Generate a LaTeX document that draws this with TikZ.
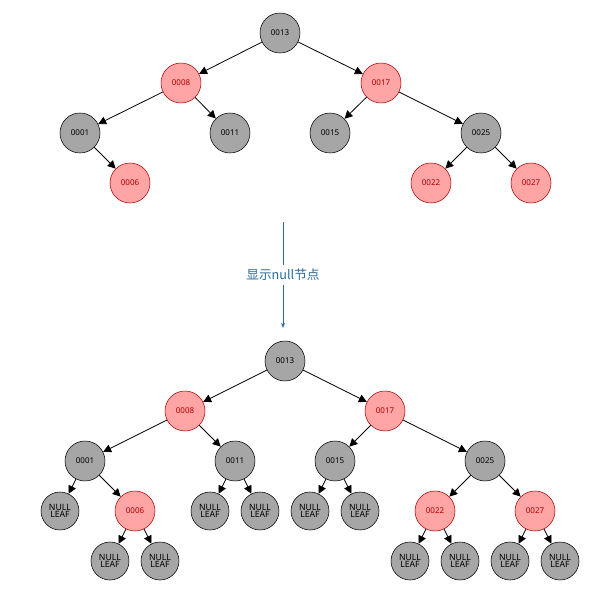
\documentclass[tikz,border=0pt]{standalone}
\usepackage{fontspec}
\setmainfont{Noto Sans}
\newfontfamily\cjk{Noto Sans CJK SC}
\usetikzlibrary{arrows.meta}
\definecolor{redfill}{HTML}{FFA5A5}
\definecolor{redline}{HTML}{B20000}
\definecolor{greyfill}{HTML}{A6A6A6}
\definecolor{arrowblue}{HTML}{2A6A9A}
\tikzset{
  blacknode/.style={circle,draw=black,fill=greyfill,minimum size=30pt,inner sep=0pt,font=\fontsize{6}{7}\selectfont},
  rednode/.style={circle,draw=redline,fill=redfill,text=redline,minimum size=30pt,inner sep=0pt,font=\fontsize{6}{7}\selectfont},
  nullnode/.style={circle,draw=black,fill=greyfill,minimum size=28.5pt,inner sep=0pt,align=center,font=\fontsize{6.5}{7}\selectfont},
  edge/.style={-{Triangle[length=6pt,width=6pt]},line width=0.6pt}
}
\begin{document}
\begin{tikzpicture}[x=0.75pt,y=-0.75pt]
    \useasboundingbox (0,0) rectangle (609,595);
    % upper tree
    \node[blacknode] (a13) at (280,33)  {0013};
    \node[rednode]   (a08) at (181,83)  {0008};
    \node[rednode]   (a17) at (381,83)  {0017};
    \node[blacknode] (a01) at (80,133)  {0001};
    \node[blacknode] (a11) at (230,133) {0011};
    \node[blacknode] (a15) at (330,133) {0015};
    \node[blacknode] (a25) at (481,133) {0025};
    \node[rednode]   (a06) at (130,183) {0006};
    \node[rednode]   (a22) at (431,183) {0022};
    \node[rednode]   (a27) at (531,183) {0027};
    \foreach \p/\c in {a13/a08,a13/a17,a08/a01,a08/a11,a17/a15,a17/a25,a01/a06,a25/a22,a25/a27}
      \draw[edge] (\p) -- (\c);
    % arrow between
    \coordinate (s) at (283,222);
    \coordinate (e) at (283,328);
    \draw[arrowblue,-{Stealth[length=4pt]},line width=0.6pt] (s) -- (e)
      node[midway,fill=white,text=arrowblue,font=\cjk\fontsize{9.5}{11}\selectfont] (lbl) {显示null节点};
    % lower tree
    \node[blacknode] (b13) at (285,361) {0013};
    \node[rednode]   (b08) at (185,411) {0008};
    \node[rednode]   (b17) at (385,411) {0017};
    \node[blacknode] (b01) at (85,461)  {0001};
    \node[blacknode] (b11) at (235,461) {0011};
    \node[blacknode] (b15) at (335,461) {0015};
    \node[blacknode] (b25) at (485,461) {0025};
    \node[rednode]   (b06) at (135,511) {0006};
    \node[rednode]   (b22) at (435,511) {0022};
    \node[rednode]   (b27) at (535,511) {0027};
    \foreach \p/\c in {b13/b08,b13/b17,b08/b01,b08/b11,b17/b15,b17/b25,b01/b06,b25/b22,b25/b27}
      \draw[edge] (\p) -- (\c);
    % null leaves
    \foreach \n/\x/\y/\p in {n1/60/511/b01,n2/210/511/b11,n3/260/511/b11,n4/310/511/b15,n5/360/511/b15,
        n6/110/561/b06,n7/160/561/b06,n8/410/561/b22,n9/460/561/b22,n10/510/561/b27,n11/560/561/b27}{
      \node[nullnode] (\n) at (\x,\y) {NULL\\[-2pt]LEAF};
      \draw[edge] (\p) -- (\n);
    }
\end{tikzpicture}
\end{document}
